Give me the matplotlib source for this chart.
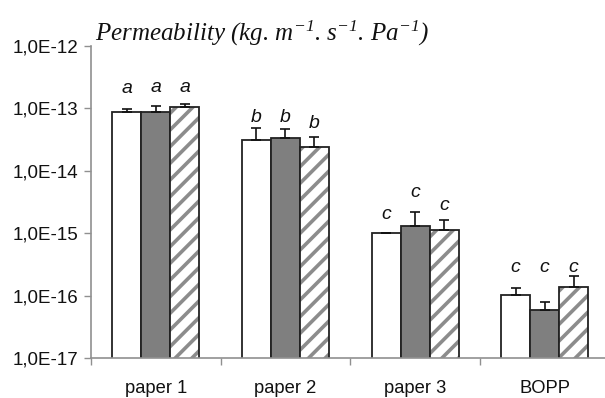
import numpy as np
import matplotlib
matplotlib.use("Agg")
import matplotlib.pyplot as plt
import matplotlib.ticker as ticker

# %% data
categories = ["paper 1", "paper 2", "paper 3", "BOPP"]

white_vals = [8.8e-14, 3.1e-14, 1.0e-15, 1.03e-16]
white_tops = [9.6e-14, 4.76e-14, 1.0e-15, 1.31e-16]

gray_vals = [8.8e-14, 3.3e-14, 1.32e-15, 5.83e-17]
gray_tops = [1.08e-13, 4.6e-14, 2.21e-15, 8.0e-17]

hatch_vals = [1.06e-13, 2.37e-14, 1.1e-15, 1.38e-16]
hatch_tops = [1.17e-13, 3.42e-14, 1.63e-15, 2.07e-16]

# significance letters and the height they sit at
letters = [["a", "a", "a"], ["b", "b", "b"], ["c", "c", "c"], ["c", "c", "c"]]
letter_heights = [
    [1.75e-13, 1.8e-13, 1.8e-13],
    [6.1e-14, 6.1e-14, 4.8e-14],
    [1.69e-15, 3.84e-15, 2.35e-15],
    [2.42e-16, 2.42e-16, 2.42e-16],
]

y_ticks = [1e-17, 1e-16, 1e-15, 1e-14, 1e-13, 1e-12]
y_ticklabels = ["1,0E-17", "1,0E-16", "1,0E-15", "1,0E-14", "1,0E-13", "1,0E-12"]

# %% style
plt.rcParams["font.family"] = ["Liberation Sans", "DejaVu Sans"]
plt.rcParams["hatch.linewidth"] = 2.6
plt.rcParams["mathtext.fontset"] = "custom"
plt.rcParams["mathtext.rm"] = "Liberation Serif:italic"
plt.rcParams["mathtext.it"] = "Liberation Serif:italic"

W, H = 605, 398
fig = plt.figure(figsize=(W / 100, H / 100), dpi=100)
ax = fig.add_axes([91 / W, 1 - 358 / H, (609.5 - 91) / W, (358 - 45.7) / H])

x = np.arange(len(categories))
bw = 0.224
edge = "#222222"
hatch_gray = "#8c8c8c"

series = [
    (white_vals, white_tops, "white", None),
    (gray_vals, gray_tops, "#7f7f7f", None),
    (hatch_vals, hatch_tops, "white", "//"),
]

for i, (vals, tops, fill, hatch) in enumerate(series):
    pos = x + (i - 1) * bw
    vals = np.array(vals)
    err = np.array(tops) - vals
    if hatch:
        # hatch drawn in gray underneath, dark outline on top
        ax.bar(pos, vals, width=bw, color=fill, edgecolor=hatch_gray, hatch=hatch,
               linewidth=0, zorder=2)
        ax.bar(pos, vals, width=bw, fill=False, edgecolor=edge, linewidth=1.3, zorder=2.1)
    else:
        ax.bar(pos, vals, width=bw, color=fill, edgecolor=edge, linewidth=1.3, zorder=2)
    ax.errorbar(pos, vals, yerr=[np.zeros_like(err), err], fmt="none",
                ecolor="#111111", elinewidth=1.2, capsize=3.6, capthick=1.2, zorder=3)
    for j in range(len(categories)):
        ax.text(pos[j], letter_heights[j][i], letters[j][i], ha="center", va="baseline",
                fontsize=14, style="italic", color="#111111")

ax.set_yscale("log")
ax.set_ylim(1e-17, 1e-12)
ax.set_xlim(-0.5, len(categories) - 0.5)

ax.set_yticks(y_ticks)
ax.set_yticklabels(y_ticklabels)
ax.yaxis.set_minor_locator(ticker.NullLocator())

ax.set_xticks(x)
ax.set_xticklabels(categories)
ax.set_xticks(np.arange(len(categories) + 1) - 0.5, minor=True)
ax.tick_params(axis="x", which="major", length=0, pad=16, labelsize=13.2, colors="#111111")
ax.tick_params(axis="x", which="minor", length=5, width=1, color="#909090")
ax.tick_params(axis="y", which="major", length=5, width=1, color="#909090",
               labelsize=13.5, labelcolor="#111111", pad=4)

for side in ["top", "right"]:
    ax.spines[side].set_visible(False)
for side in ["left", "bottom"]:
    ax.spines[side].set_color("#909090")
    ax.spines[side].set_linewidth(1.2)

fig.text(95 / W, 1 - 40.7 / H,
         r"Permeability (kg. m$^{-1}$. s$^{-1}$. Pa$^{-1}$)",
         fontsize=18, family="Liberation Serif", style="italic",
         ha="left", va="baseline", color="#111111")

fig.savefig("out.png", dpi=100)
